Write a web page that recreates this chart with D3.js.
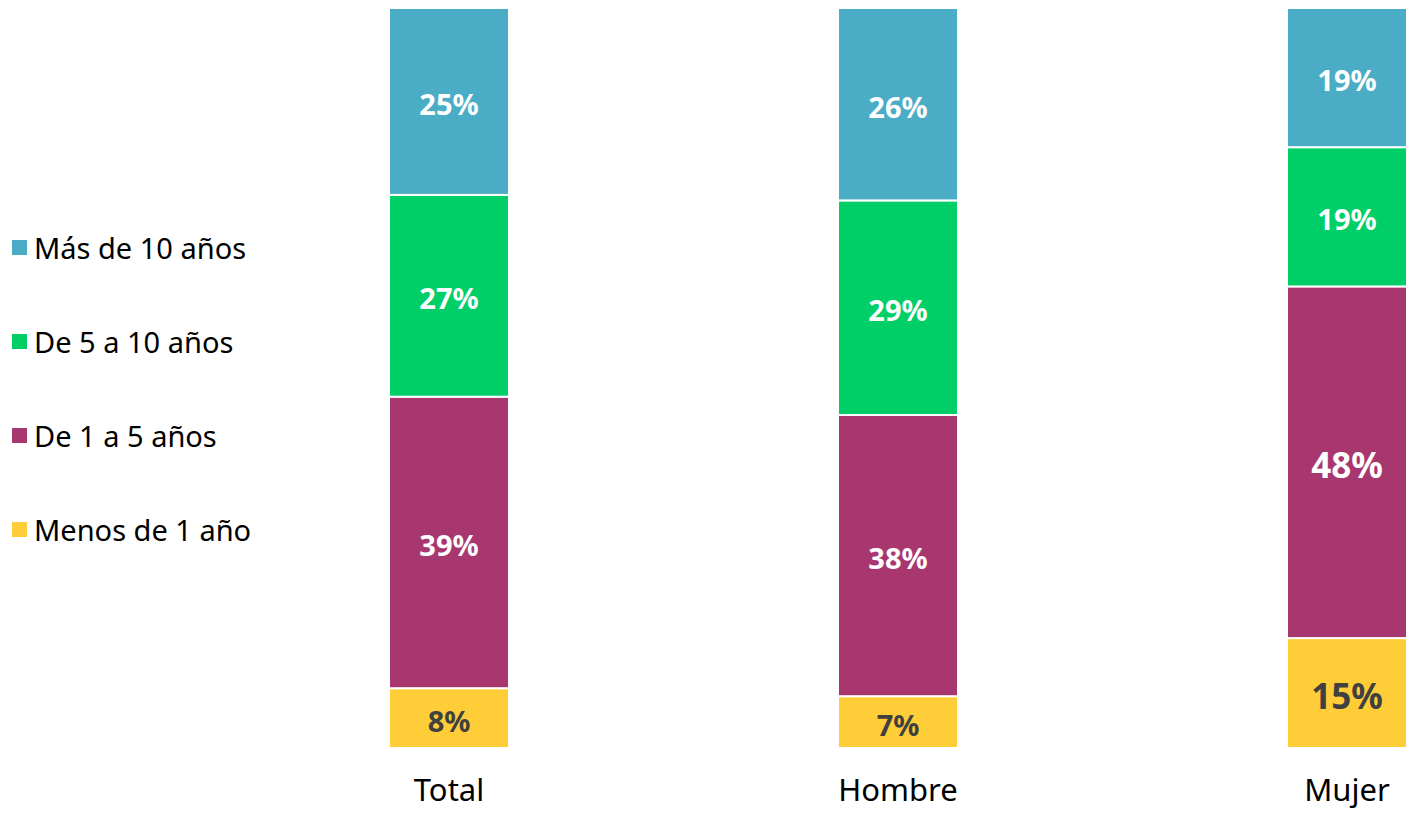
<!DOCTYPE html>
<html>
<head>
<meta charset="utf-8">
<script src="https://cdn.jsdelivr.net/npm/d3@7"></script>
<style>
  html, body { margin: 0; padding: 0; background: #fff; }
  svg { display: block; font-family: "Noto Sans", "Open Sans", sans-serif; }
</style>
</head>
<body>
<svg id="chart" width="1412" height="815"></svg>
<script>
// Antigüedad: share of each group by time band (percent)
const categories = ["Total", "Hombre", "Mujer"];
const seriesNames = ["Menos de 1 año", "De 1 a 5 años", "De 5 a 10 años", "Más de 10 años"];
const menosDe1 = [8, 7, 15];
const de1a5 = [39, 38, 48];
const de5a10 = [27, 29, 19];
const masDe10 = [25, 26, 19];

const colors = ["#FFCD38", "#A9376F", "#00CE66", "#4BACC6"];
const labelColors = ["#404040", "#ffffff", "#ffffff", "#ffffff"];

const rows = categories.map((c, i) => ({
  cat: c,
  "Menos de 1 año": menosDe1[i],
  "De 1 a 5 años": de1a5[i],
  "De 5 a 10 años": de5a10[i],
  "Más de 10 años": masDe10[i]
}));

const stack = d3.stack().keys(seriesNames).offset(d3.stackOffsetExpand);
const layers = stack(rows);

const svg = d3.select("#chart");

const x = d3.scaleBand()
  .domain(categories)
  .range([389, 1407])
  .paddingInner(0.7327)
  .paddingOuter(0);

const y = d3.scaleLinear().domain([0, 1]).range([748, 8]);

const g = svg.append("g");

layers.forEach((layer, si) => {
  const grp = g.append("g");
  grp.selectAll("rect")
    .data(layer)
    .join("rect")
    .attr("x", d => x(d.data.cat))
    .attr("width", x.bandwidth())
    .attr("y", d => y(d[1]))
    .attr("height", d => y(d[0]) - y(d[1]))
    .attr("fill", colors[si])
    .attr("stroke", "#fff")
    .attr("stroke-width", 2);

  grp.selectAll("text")
    .data(layer)
    .join("text")
    .attr("x", d => x(d.data.cat) + x.bandwidth() / 2)
    .attr("y", d => (y(d[0]) + y(d[1])) / 2 + 2)
    .attr("text-anchor", "middle")
    .attr("dominant-baseline", "central")
    .attr("fill", labelColors[si])
    .attr("font-weight", "bold")
    .attr("font-size", d => d.data[seriesNames[si]] >= 40 || (si === 0 && d.data[seriesNames[si]] >= 10) ? 35 : 29)
    .text(d => d.data[seriesNames[si]] + "%");
});

// Category axis labels
const xAxis = d3.axisBottom(x).tickSize(0).tickPadding(0);
const axisG = svg.append("g")
  .attr("transform", "translate(0,779)")
  .call(xAxis);
axisG.select(".domain").remove();
axisG.selectAll("text")
  .attr("font-family", "Noto Sans, Open Sans, sans-serif")
  .attr("font-size", 31)
  .attr("fill", "#000")
  .attr("dy", "0.71em");

// Legend (top entry = top segment)
const legendItems = seriesNames.slice().reverse();
const legend = svg.append("g");
legendItems.forEach((name, i) => {
  const cy = 247 + i * 94;
  const ci = seriesNames.indexOf(name);
  legend.append("rect")
    .attr("x", 12).attr("y", cy - 7)
    .attr("width", 15).attr("height", 15)
    .attr("fill", colors[ci]);
  legend.append("text")
    .attr("x", 34).attr("y", cy)
    .attr("dominant-baseline", "central")
    .attr("font-size", 29)
    .attr("fill", "#000")
    .text(name);
});
</script>
</body>
</html>
